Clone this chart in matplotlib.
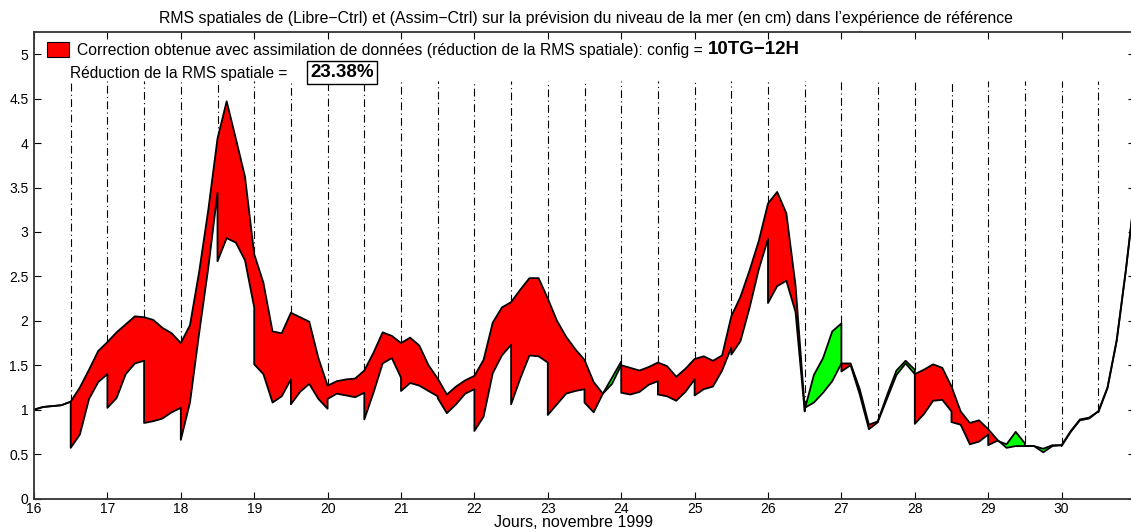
import numpy as np
import matplotlib.pyplot as plt
from matplotlib.patches import Rectangle

plt.rcParams['font.family'] = ['Liberation Sans', 'DejaVu Sans']

# RMS (cm), one value every 3 hours from 16 to 31 novembre
libre = [1.00, 1.03, 1.04, 1.05, 1.09, 1.25, 1.45, 1.66,
         1.76, 1.87, 1.96, 2.05, 2.04, 2.01, 1.92, 1.86,
         1.75, 1.95, 2.55, 3.25, 4.05, 4.47, 4.05, 3.62,
         2.75, 2.43, 1.88, 1.86, 2.09, 2.04, 1.99, 1.58,
         1.27, 1.32, 1.34, 1.35, 1.44, 1.64, 1.87, 1.83,
         1.75, 1.81, 1.72, 1.50, 1.35, 1.17, 1.26, 1.33,
         1.38, 1.56, 1.98, 2.15, 2.21, 2.35, 2.48, 2.48,
         2.25, 2.00, 1.82, 1.68, 1.56, 1.31, 1.18, 1.29,
         1.50, 1.47, 1.44, 1.48, 1.53, 1.49, 1.37, 1.46,
         1.57, 1.60, 1.55, 1.61, 2.05, 2.27, 2.57, 2.90,
         3.32, 3.45, 3.21, 2.40, 1.02, 1.08, 1.19, 1.32,
         1.52, 1.52, 1.23, 0.83, 0.87, 1.13, 1.39, 1.52,
         1.40, 1.45, 1.51, 1.47, 1.26, 0.98, 0.85, 0.88,
         0.78, 0.66, 0.57, 0.59, 0.59, 0.59, 0.52, 0.59,
         0.60, 0.76, 0.89, 0.91, 0.98, 1.25, 1.78, 2.57,
         3.45]
# assimilation run, value just after each analysis
assim = [1.00, 1.03, 1.04, 1.05, 0.57, 0.72, 1.12, 1.31,
         1.02, 1.13, 1.40, 1.52, 0.85, 0.87, 0.90, 0.97,
         0.66, 1.08, 1.86, 2.60, 2.67, 2.93, 2.88, 2.68,
         1.51, 1.40, 1.08, 1.15, 1.06, 1.20, 1.29, 1.12,
         1.12, 1.18, 1.16, 1.14, 0.89, 1.19, 1.52, 1.58,
         1.21, 1.30, 1.27, 1.21, 1.13, 0.96, 1.06, 1.18,
         0.76, 0.92, 1.41, 1.61, 1.06, 1.35, 1.61, 1.60,
         0.94, 1.06, 1.18, 1.21, 1.08, 0.97, 1.18, 1.36,
         1.19, 1.17, 1.20, 1.28, 1.17, 1.15, 1.10, 1.20,
         1.16, 1.23, 1.26, 1.44, 1.62, 1.77, 2.15, 2.58,
         2.20, 2.39, 2.45, 2.10, 1.00, 1.39, 1.58, 1.88,
         1.43, 1.50, 1.17, 0.78, 0.88, 1.17, 1.44, 1.55,
         0.84, 0.95, 1.10, 1.11, 0.86, 0.83, 0.61, 0.64,
         0.60, 0.65, 0.61, 0.75, 0.59, 0.59, 0.56, 0.60,
         0.59, 0.75, 0.88, 0.90, 0.97, 1.24, 1.77, 2.56,
         3.45]
# assimilation run just before each analysis (16.5, 17.0, ... 30.5)
assim_pre = [1.09, 1.40, 1.55, 1.02, 3.44, 2.15, 1.34, 1.01, 1.19, 1.36,
             1.15, 1.23, 1.73, 1.53, 1.23, 1.54, 1.32, 1.34, 1.70, 2.92,
             0.98, 1.97, 0.86, 1.45, 0.98, 0.72, 0.62, 0.60, 0.98]
reduction = '23.38%'
config = '10TG\u221212H'

t = 16 + np.arange(len(libre)) / 8.0
t_ana = 16.5 + 0.5 * np.arange(len(assim_pre))

# merge, each analysis time appears twice (before / after the jump)
xs, yl, ya = [], [], []
k = 0
for i, ti in enumerate(t):
    if k < len(t_ana) and abs(ti - t_ana[k]) < 1e-6:
        xs.append(ti); yl.append(libre[i]); ya.append(assim_pre[k])
        k += 1
    xs.append(ti); yl.append(libre[i]); ya.append(assim[i])
xs = np.array(xs); yl = np.array(yl); ya = np.array(ya)

W, H = 1131, 532
fig = plt.figure(figsize=(W / 100, H / 100), dpi=100)
# right edge of the axes falls just outside the picture
ax = fig.add_axes([34 / W, 33.5 / H, 1101 / W, (498.5 - 32) / H])

ax.fill_between(xs, yl, ya, where=yl >= ya, interpolate=True, color='#ff0000', lw=0)
ax.fill_between(xs, yl, ya, where=ya > yl, interpolate=True, color='#00ff00', lw=0)
ax.plot(xs, yl, color='k', lw=1.3)
ax.plot(xs, ya, color='k', lw=1.3)

# analysis times
top_curve = [max(libre[4 * (j + 1)], assim_pre[j]) for j in range(len(t_ana))]
ax.vlines(t_ana, top_curve, 4.7, colors='k', lw=0.8, linestyles=(0, (7, 3, 1, 3)), zorder=0)

ax.set_xlim(16, 16 + 1101 / 73.4)
ax.set_ylim(0, 5.25)
ax.set_xticks(range(16, 31))
ax.set_yticks(np.arange(0, 5.01, 0.5))
ax.set_yticklabels(['%g' % v for v in np.arange(0, 5.01, 0.5)])
ax.tick_params(direction='in', top=True, right=True, length=5, labelsize=10)
ax.tick_params(axis='y', pad=4)
ax.tick_params(axis='x', pad=2.5)
for s in ax.spines.values():
    s.set_linewidth(1.3)
    s.set_color('#333333')

fig.text(574 / W, 1 - 522.5 / H, 'Jours, novembre 1999', ha='center', va='center', fontsize=11.5)
fig.text(586 / W, 1 - 18 / H,
         'RMS spatiales de (Libre\u2212Ctrl) et (Assim\u2212Ctrl) sur la pr\u00e9vision du niveau de la mer (en cm) dans l\u2019exp\u00e9rience de r\u00e9f\u00e9rence',
         ha='center', va='center', fontsize=11.4)

# legend
fig.patches.append(Rectangle((47 / W, 1 - 57 / H), 22 / W, 15 / H, transform=fig.transFigure,
                             facecolor='#ff0000', edgecolor='k', lw=0.8))
fig.text(77 / W, 1 - 50 / H,
         'Correction obtenue avec assimilation de donn\u00e9es (r\u00e9duction de la RMS spatiale): config =',
         ha='left', va='center', fontsize=11.3)
fig.text(708 / W, 1 - 50 / H, config, ha='left', va='center', fontsize=13.5, weight='bold')
fig.text(70 / W, 1 - 73 / H, 'R\u00e9duction de la RMS spatiale =', ha='left', va='center', fontsize=11.2)
fig.text(342 / W, 1 - 72.5 / H, reduction, ha='center', va='center', fontsize=13.5, weight='bold',
         bbox=dict(boxstyle='square,pad=0.15', fc='white', ec='k', lw=1))

fig.savefig('out.png', dpi=100)
